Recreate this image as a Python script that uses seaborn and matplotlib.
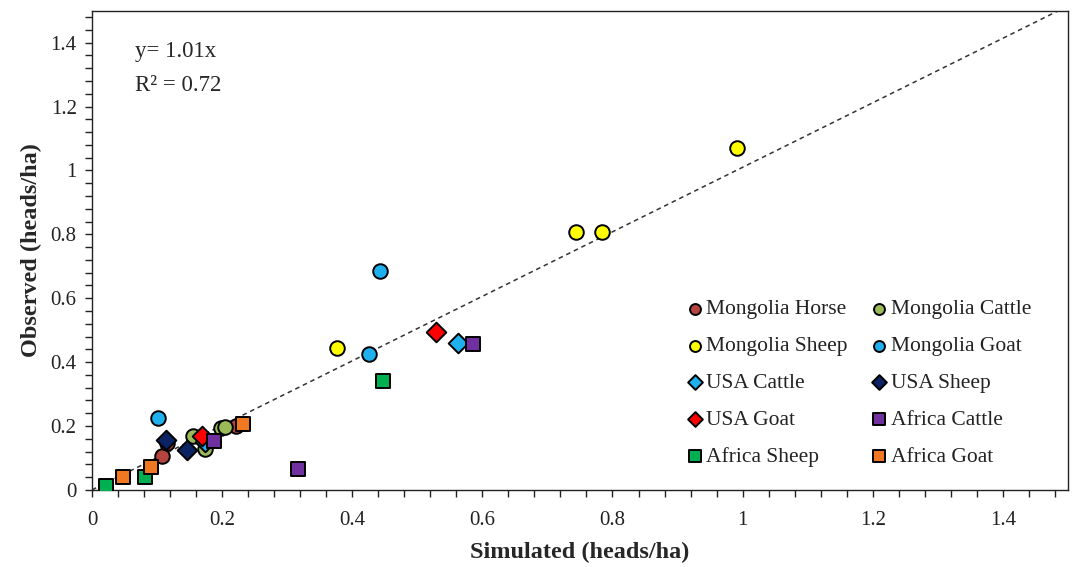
import pandas as pd
import matplotlib.pyplot as plt
import seaborn as sns
from matplotlib.ticker import MultipleLocator

# Values (simulated x, observed y) per series
series_names = ["Mongolia Horse", "Mongolia Cattle", "Mongolia Sheep", "Mongolia Goat",
                "USA Cattle", "USA Sheep", "USA Goat",
                "Africa Cattle", "Africa Sheep", "Africa Goat"]

mongolia_horse_x = [0.107, 0.115, 0.222]
mongolia_horse_y = [0.106, 0.146, 0.199]
mongolia_cattle_x = [0.156, 0.173, 0.198, 0.205]
mongolia_cattle_y = [0.169, 0.128, 0.194, 0.196]
mongolia_sheep_x = [0.377, 0.744, 0.784, 0.991]
mongolia_sheep_y = [0.444, 0.806, 0.806, 1.069]
mongolia_goat_x = [0.101, 0.426, 0.443]
mongolia_goat_y = [0.225, 0.425, 0.684]
usa_cattle_x = [0.173, 0.563]
usa_cattle_y = [0.150, 0.459]
usa_sheep_x = [0.113, 0.146]
usa_sheep_y = [0.156, 0.125]
usa_goat_x = [0.169, 0.528]
usa_goat_y = [0.169, 0.494]
africa_cattle_x = [0.188, 0.317, 0.586]
africa_cattle_y = [0.153, 0.066, 0.456]
africa_sheep_x = [0.022, 0.081, 0.448]
africa_sheep_y = [0.013, 0.040, 0.341]
africa_goat_x = [0.047, 0.091, 0.232]
africa_goat_y = [0.040, 0.073, 0.206]

xs = [mongolia_horse_x, mongolia_cattle_x, mongolia_sheep_x, mongolia_goat_x,
      usa_cattle_x, usa_sheep_x, usa_goat_x,
      africa_cattle_x, africa_sheep_x, africa_goat_x]
ys = [mongolia_horse_y, mongolia_cattle_y, mongolia_sheep_y, mongolia_goat_y,
      usa_cattle_y, usa_sheep_y, usa_goat_y,
      africa_cattle_y, africa_sheep_y, africa_goat_y]

colors = ["#B5443F", "#9BBB59", "#FFFF00", "#1FB0EE", "#1FB0EE", "#0B2363",
          "#FF0000", "#7030A0", "#00B050", "#F07820"]
markers = ["o", "o", "o", "o", "D", "D", "D", "s", "s", "s"]

slope = 1.01
x_ticks = [0, 0.2, 0.4, 0.6, 0.8, 1, 1.2, 1.4]
y_ticks = [0, 0.2, 0.4, 0.6, 0.8, 1, 1.2, 1.4]

rows = []
for name, xv, yv in zip(series_names, xs, ys):
    for a, b in zip(xv, yv):
        rows.append({"Simulated": a, "Observed": b, "series": name})
df = pd.DataFrame(rows)

sns.set_style("ticks")
plt.rcParams["font.family"] = ["Liberation Serif", "DejaVu Serif"]

fig = plt.figure(figsize=(10.76, 5.67), dpi=100)
ax = fig.add_axes([0.0855, 0.136, 0.907, 0.845])

# trend line y = 1.01x
ax.plot([0, 1.5], [0, slope * 1.5], ls=(0, (3, 2.5)), color="#333333", lw=1.1, zorder=1)

size_for = {"o": 110, "D": 100, "s": 115}
for name, col, mk in zip(series_names, colors, markers):
    sub = df[df["series"] == name]
    sns.scatterplot(data=sub, x="Simulated", y="Observed", color=col, marker=mk,
                    s=size_for[mk], edgecolor="black", linewidth=1.4, ax=ax,
                    label=name, zorder=3)

ax.set_xlim(0, 1.5)
ax.set_ylim(0, 1.5)
ax.set_xticks(x_ticks)
ax.set_yticks(y_ticks)
ax.set_xticklabels([f"{t:g}" for t in x_ticks])
ax.set_yticklabels([f"{t:g}" for t in y_ticks])
ax.xaxis.set_minor_locator(MultipleLocator(0.04))
ax.yaxis.set_minor_locator(MultipleLocator(0.04))
ax.tick_params(which="both", direction="out", length=5, width=1, colors="#222222")
ax.tick_params(which="major", labelsize=15, labelcolor="#222222", pad=6)
ax.tick_params(axis="x", which="major", pad=10)
for sp in ax.spines.values():
    sp.set_visible(True)
    sp.set_color("#222222")
    sp.set_linewidth(1)

ax.set_xlabel("Simulated (heads/ha)", fontsize=17.5, fontweight="bold", labelpad=9)
ax.set_ylabel("Observed (heads/ha)", fontsize=17.5, fontweight="bold", labelpad=6)

ax.text(0.044, 0.915, "y= 1.01x", transform=ax.transAxes, fontsize=16.5, va="center")
ax.text(0.044, 0.845, "R² = 0.72", transform=ax.transAxes, fontsize=16.5, va="center")

handles, labels = ax.get_legend_handles_labels()
# order so that ncol=2 fills row by row
order = [0, 2, 4, 6, 8, 1, 3, 5, 7, 9]
ax.legend([handles[i] for i in order], [labels[i] for i in order], ncol=2,
          loc="center", bbox_to_anchor=(0.785, 0.223), frameon=False, fontsize=15.5,
          markerscale=0.75, handletextpad=0.1, columnspacing=1.0, labelspacing=0.78,
          handlelength=0.9, labelcolor="#222222")

plt.savefig("out.png", dpi=100)
